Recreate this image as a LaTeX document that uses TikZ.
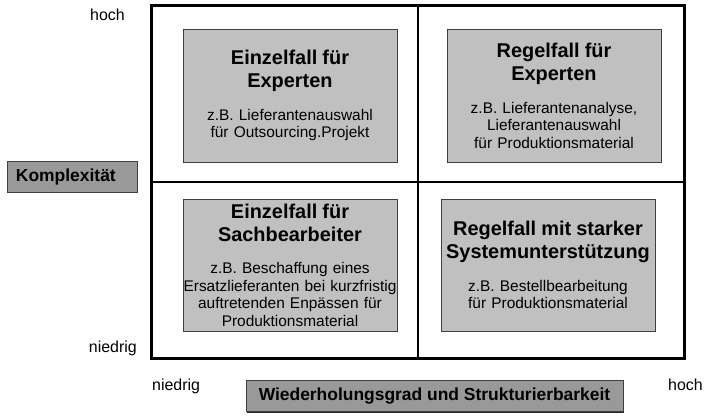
\documentclass[tikz,border=0pt]{standalone}
\usepackage{fontspec}
\setmainfont{Liberation Sans}
\usetikzlibrary{shadows}
\definecolor{boxgray}{HTML}{C0C0C0}
\definecolor{labelgray}{HTML}{999999}
\definecolor{edgegray}{HTML}{404040}
\newcommand{\quadtitle}[1]{{\fontsize{20}{23.5}\selectfont\bfseries #1\par}\vspace{15bp}}
\tikzset{
  quad/.style={draw=edgegray, line width=0.8bp, fill=boxgray,
    minimum width=214bp, minimum height=133bp, text width=214bp,
    inner sep=0pt, align=center, font=\fontsize{15.5}{17.5}\selectfont,
    drop shadow={shadow xshift=1.2bp, shadow yshift=-1.2bp, fill=black!85, opacity=1}},
  axislabel/.style={draw=edgegray, line width=0.8bp, fill=labelgray,
    minimum height=31bp, inner sep=0pt, font=\fontsize{17.5}{20}\selectfont\bfseries,
    drop shadow={shadow xshift=1bp, shadow yshift=-1bp, fill=black!85, opacity=1}},
  tick/.style={inner sep=0pt, font=\fontsize{16}{19}\selectfont},
  divider/.style={line width=1.5bp},
}
\begin{document}
\begin{tikzpicture}[x=1bp,y=-1bp]
\useasboundingbox (0,0) rectangle (720,418);
\fill[white] (0,0) rectangle (720,418);
\node[draw, line width=3bp, minimum width=532bp, minimum height=353bp,
      inner sep=0pt, outer sep=0pt] (frame) at (418,182) {};
\draw[divider] (frame.north) -- (frame.south);
\draw[divider] (frame.west) -- (frame.east);

\node[quad] (tl) at (290,95.5) {\quadtitle{Einzelfall für\\Experten}z.B. Lieferantenauswahl\\für Outsourcing.Projekt};
\node[quad] (tr) at (554,95.5) {\quadtitle{Regelfall für\\Experten}z.B. Lieferantenanalyse,\\Lieferantenauswahl\\für Produktionsmaterial};
\node[quad, minimum height=132bp] (bl) at (290,265) {\quadtitle{Einzelfall für\\Sachbearbeiter}z.B. Beschaffung eines\\Ersatzlieferanten bei kurzfristig\\auftretenden Enpässen für\\Produktionsmaterial};
\node[quad, minimum height=132bp] (br) at (548,265) {\quadtitle{Regelfall mit starker\\Systemunterstützung}z.B. Bestellbearbeitung\\für Produktionsmaterial};

\node[axislabel, minimum width=130bp, text width=112bp, align=left] (ylab) at (72,176.5) {Komplexität};
\node[axislabel, minimum width=377bp] (xlab) at (434.5,396) {Wiederholungsgrad und Strukturierbarkeit};

\node[tick, anchor=base west] (yhigh) at (90,20) {hoch};
\node[tick, anchor=base east] (ylow) at (137,352) {niedrig};
\node[tick, anchor=base west] (xlow) at (152,390) {niedrig};
\node[tick, anchor=base west] (xhigh) at (668,390) {hoch};
\end{tikzpicture}
\end{document}
